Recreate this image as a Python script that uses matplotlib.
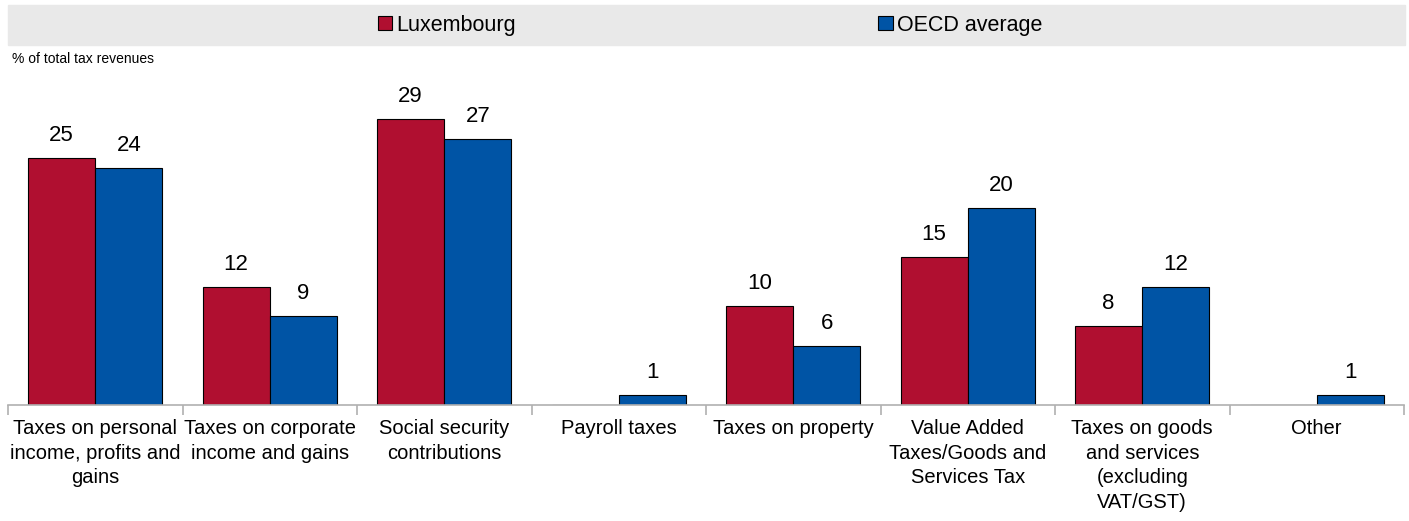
import matplotlib
matplotlib.use("Agg")
import matplotlib.pyplot as plt
from matplotlib.patches import Rectangle, Patch
import numpy as np

# ---- data ----
CATEGORIES = [
    "Taxes on personal\nincome, profits and\ngains",
    "Taxes on corporate\nincome and gains",
    "Social security\ncontributions",
    "Payroll taxes",
    "Taxes on property",
    "Value Added\nTaxes/Goods and\nServices Tax",
    "Taxes on goods\nand services\n(excluding\nVAT/GST)",
    "Other",
]
LUXEMBOURG = [25, 12, 29, 0, 10, 15, 8, 0]
OECD_AVG = [24, 9, 27, 1, 6, 20, 12, 1]
SERIES_NAMES = ["Luxembourg", "OECD average"]

RED = "#b00f30"
BLUE = "#0054a5"
plt.rcParams["font.family"] = ["Liberation Sans", "DejaVu Sans"]

fig = plt.figure(figsize=(14.09, 5.21), dpi=100)
W, H = 1409, 521
ax = fig.add_axes([8 / W, 116 / H, (1404 - 8) / W, (405 - 109) / H])

x = np.arange(len(CATEGORIES))
w = 0.385
ax.bar(x - w / 2, LUXEMBOURG, w, color=RED, edgecolor="black", linewidth=0.8)
ax.bar(x + w / 2, OECD_AVG, w, color=BLUE, edgecolor="black", linewidth=0.8)

# value labels (skip the empty Luxembourg bars)
for xi, v in zip(x, LUXEMBOURG):
    if v:
        ax.text(xi - w / 2, v + 1.2, f"{v}", ha="center", va="bottom",
                fontsize=16, clip_on=False)
for xi, v in zip(x, OECD_AVG):
    if v:
        ax.text(xi + w / 2, v + 1.2, f"{v}", ha="center", va="bottom",
                fontsize=16, clip_on=False)

ax.set_xlim(-0.5, len(CATEGORIES) - 0.5)
ax.set_ylim(0, 30)
ax.set_yticks([])
for s in ("top", "right", "left"):
    ax.spines[s].set_visible(False)
ax.spines["bottom"].set_color("#b0b0b0")
ax.spines["bottom"].set_linewidth(1.2)
ax.set_xticks(x)
ax.set_xticklabels(CATEGORIES, fontsize=14.5, linespacing=1.38, va="top")
ax.tick_params(axis="x", which="major", length=0, pad=10)
ax.set_xticks(np.arange(len(CATEGORIES) + 1) - 0.5, minor=True)
ax.tick_params(axis="x", which="minor", length=7, color="#b0b0b0", width=1.2)

# legend band
fig.patches.append(Rectangle((8 / W, 1 - 45 / H), (1405 - 8) / W, 40 / H,
                             transform=fig.transFigure, color="#e9e9e9", zorder=0))
handles = [Patch(facecolor=RED, edgecolor="black", linewidth=0.8),
           Patch(facecolor=BLUE, edgecolor="black", linewidth=0.8)]
fig.legend(handles, SERIES_NAMES, loc="center", bbox_to_anchor=(710 / W, 1 - 25 / H),
           ncol=2, frameon=False, fontsize=15.5, handlelength=0.68, handleheight=0.68,
           handletextpad=0.2, columnspacing=16.8, borderpad=0)

fig.text(12 / W, 1 - 59 / H, "% of total tax revenues", fontsize=10,
         ha="left", va="center")

fig.savefig("out.png", dpi=100)
